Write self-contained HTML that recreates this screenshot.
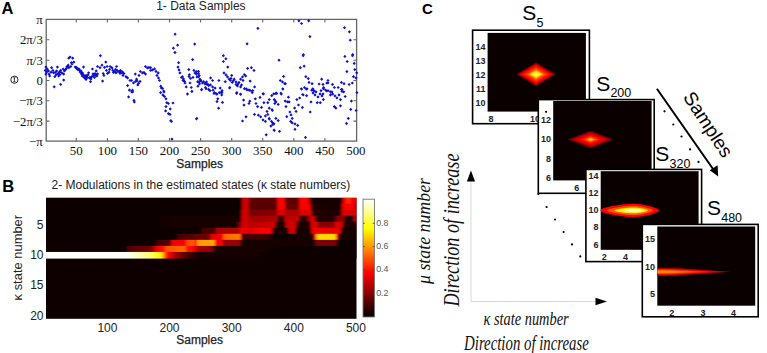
<!DOCTYPE html><html><head><meta charset="utf-8"><style>
html,body{margin:0;padding:0;background:#fff;}
svg{display:block;}
text{font-family:"Liberation Sans",sans-serif;}
.serif{font-family:"Liberation Serif",serif;}
</style></head><body>
<svg width="767" height="353" viewBox="0 0 767 353">
<defs><linearGradient id="r1" gradientUnits="userSpaceOnUse" x1="46.0" x2="356.5" y1="0" y2="0"><stop offset="0.0000" stop-color="#0e0000"/><stop offset="0.6248" stop-color="#0e0000"/><stop offset="0.6329" stop-color="#aa0000"/><stop offset="0.6345" stop-color="#cc0000"/><stop offset="0.6506" stop-color="#cc0000"/><stop offset="0.6570" stop-color="#5f0000"/><stop offset="0.7407" stop-color="#5f0000"/><stop offset="0.7472" stop-color="#ff0300"/><stop offset="0.7665" stop-color="#ff0300"/><stop offset="0.7729" stop-color="#5f0000"/><stop offset="0.8116" stop-color="#5f0000"/><stop offset="0.8180" stop-color="#ff0300"/><stop offset="0.8406" stop-color="#ff0300"/><stop offset="0.8470" stop-color="#cc0000"/><stop offset="0.8535" stop-color="#290000"/><stop offset="0.8615" stop-color="#140000"/><stop offset="0.9469" stop-color="#140000"/><stop offset="0.9533" stop-color="#660000"/><stop offset="0.9597" stop-color="#ff0300"/><stop offset="0.9726" stop-color="#ff1d00"/><stop offset="0.9742" stop-color="#ff3c00"/><stop offset="0.9758" stop-color="#ff6800"/><stop offset="0.9775" stop-color="#ff1f00"/><stop offset="0.9871" stop-color="#fc0000"/><stop offset="0.9936" stop-color="#e70000"/><stop offset="1.0000" stop-color="#e70000"/></linearGradient><linearGradient id="r2" gradientUnits="userSpaceOnUse" x1="46.0" x2="356.5" y1="0" y2="0"><stop offset="0.0000" stop-color="#0e0000"/><stop offset="0.6248" stop-color="#0e0000"/><stop offset="0.6329" stop-color="#aa0000"/><stop offset="0.6345" stop-color="#cc0000"/><stop offset="0.6506" stop-color="#cc0000"/><stop offset="0.6570" stop-color="#580000"/><stop offset="0.7407" stop-color="#580000"/><stop offset="0.7472" stop-color="#fc0000"/><stop offset="0.7681" stop-color="#fc0000"/><stop offset="0.7729" stop-color="#660000"/><stop offset="0.8116" stop-color="#660000"/><stop offset="0.8180" stop-color="#fc0000"/><stop offset="0.8470" stop-color="#ee0000"/><stop offset="0.8519" stop-color="#cc0000"/><stop offset="0.8567" stop-color="#220000"/><stop offset="0.9469" stop-color="#140000"/><stop offset="0.9533" stop-color="#be0000"/><stop offset="0.9597" stop-color="#f50000"/><stop offset="0.9855" stop-color="#ff0300"/><stop offset="0.9919" stop-color="#cc0000"/><stop offset="1.0000" stop-color="#cc0000"/></linearGradient><linearGradient id="r3" gradientUnits="userSpaceOnUse" x1="46.0" x2="356.5" y1="0" y2="0"><stop offset="0.0000" stop-color="#0e0000"/><stop offset="0.6248" stop-color="#0e0000"/><stop offset="0.6296" stop-color="#960000"/><stop offset="0.6345" stop-color="#cc0000"/><stop offset="0.6506" stop-color="#cc0000"/><stop offset="0.6570" stop-color="#740000"/><stop offset="0.7407" stop-color="#880000"/><stop offset="0.7472" stop-color="#da0000"/><stop offset="0.7681" stop-color="#da0000"/><stop offset="0.7729" stop-color="#aa0000"/><stop offset="0.8148" stop-color="#aa0000"/><stop offset="0.8180" stop-color="#da0000"/><stop offset="0.8486" stop-color="#db0000"/><stop offset="0.8535" stop-color="#cc0000"/><stop offset="0.8599" stop-color="#220000"/><stop offset="0.9469" stop-color="#1b0000"/><stop offset="0.9533" stop-color="#cc0000"/><stop offset="0.9710" stop-color="#e00000"/><stop offset="0.9919" stop-color="#d80000"/><stop offset="1.0000" stop-color="#ce0000"/></linearGradient><linearGradient id="r4" gradientUnits="userSpaceOnUse" x1="46.0" x2="356.5" y1="0" y2="0"><stop offset="0.0000" stop-color="#0e0000"/><stop offset="0.6248" stop-color="#140000"/><stop offset="0.6296" stop-color="#aa0000"/><stop offset="0.6345" stop-color="#cc0000"/><stop offset="0.6506" stop-color="#cc0000"/><stop offset="0.6570" stop-color="#a30000"/><stop offset="0.7440" stop-color="#b10000"/><stop offset="0.7504" stop-color="#290000"/><stop offset="0.7633" stop-color="#290000"/><stop offset="0.7697" stop-color="#be0000"/><stop offset="0.8148" stop-color="#be0000"/><stop offset="0.8180" stop-color="#290000"/><stop offset="0.8374" stop-color="#290000"/><stop offset="0.8438" stop-color="#880000"/><stop offset="0.8535" stop-color="#cc0000"/><stop offset="0.8631" stop-color="#cc0000"/><stop offset="0.8728" stop-color="#220000"/><stop offset="0.9275" stop-color="#220000"/><stop offset="0.9372" stop-color="#880000"/><stop offset="0.9533" stop-color="#960000"/><stop offset="0.9630" stop-color="#660000"/><stop offset="0.9662" stop-color="#1b0000"/><stop offset="0.9855" stop-color="#1b0000"/><stop offset="0.9919" stop-color="#aa0000"/><stop offset="1.0000" stop-color="#aa0000"/></linearGradient><linearGradient id="r5" gradientUnits="userSpaceOnUse" x1="46.0" x2="356.5" y1="0" y2="0"><stop offset="0.0000" stop-color="#0e0000"/><stop offset="0.6119" stop-color="#140000"/><stop offset="0.6280" stop-color="#aa0000"/><stop offset="0.6377" stop-color="#da0000"/><stop offset="0.6538" stop-color="#c20000"/><stop offset="0.6602" stop-color="#b80000"/><stop offset="0.7375" stop-color="#cc0000"/><stop offset="0.7424" stop-color="#1b0000"/><stop offset="0.7681" stop-color="#1b0000"/><stop offset="0.7729" stop-color="#cc0000"/><stop offset="0.8052" stop-color="#cc0000"/><stop offset="0.8100" stop-color="#1b0000"/><stop offset="0.8486" stop-color="#1b0000"/><stop offset="0.8535" stop-color="#cc0000"/><stop offset="0.8696" stop-color="#e00000"/><stop offset="0.8792" stop-color="#880000"/><stop offset="0.9243" stop-color="#880000"/><stop offset="0.9340" stop-color="#da0000"/><stop offset="0.9533" stop-color="#da0000"/><stop offset="0.9597" stop-color="#1b0000"/><stop offset="0.9984" stop-color="#1b0000"/><stop offset="1.0000" stop-color="#410000"/></linearGradient><linearGradient id="r6" gradientUnits="userSpaceOnUse" x1="46.0" x2="356.5" y1="0" y2="0"><stop offset="0.0000" stop-color="#0e0000"/><stop offset="0.4960" stop-color="#0e0000"/><stop offset="0.5056" stop-color="#440000"/><stop offset="0.5443" stop-color="#520000"/><stop offset="0.5475" stop-color="#aa0000"/><stop offset="0.6184" stop-color="#b10000"/><stop offset="0.6280" stop-color="#ee0000"/><stop offset="0.6570" stop-color="#e30000"/><stop offset="0.6828" stop-color="#f50000"/><stop offset="0.6940" stop-color="#ff0300"/><stop offset="0.7214" stop-color="#ff0300"/><stop offset="0.7279" stop-color="#cc0000"/><stop offset="0.7343" stop-color="#140000"/><stop offset="0.7762" stop-color="#140000"/><stop offset="0.7826" stop-color="#cc0000"/><stop offset="0.8019" stop-color="#cc0000"/><stop offset="0.8068" stop-color="#140000"/><stop offset="0.8502" stop-color="#140000"/><stop offset="0.8551" stop-color="#cc0000"/><stop offset="0.8631" stop-color="#f50000"/><stop offset="0.9469" stop-color="#ee0000"/><stop offset="0.9533" stop-color="#1b0000"/><stop offset="1.0000" stop-color="#150000"/></linearGradient><linearGradient id="r7" gradientUnits="userSpaceOnUse" x1="46.0" x2="356.5" y1="0" y2="0"><stop offset="0.0000" stop-color="#0e0000"/><stop offset="0.4187" stop-color="#0e0000"/><stop offset="0.4251" stop-color="#440000"/><stop offset="0.4750" stop-color="#570000"/><stop offset="0.4831" stop-color="#660000"/><stop offset="0.5250" stop-color="#6d0000"/><stop offset="0.5314" stop-color="#e00000"/><stop offset="0.5668" stop-color="#ee0000"/><stop offset="0.5684" stop-color="#ff0c00"/><stop offset="0.5733" stop-color="#ff6300"/><stop offset="0.6216" stop-color="#ff7e00"/><stop offset="0.6264" stop-color="#ff5500"/><stop offset="0.6280" stop-color="#f90000"/><stop offset="0.6312" stop-color="#440000"/><stop offset="0.7085" stop-color="#3d0000"/><stop offset="0.7214" stop-color="#360000"/><stop offset="0.7279" stop-color="#0e0000"/><stop offset="0.8599" stop-color="#140000"/><stop offset="0.8647" stop-color="#eb0000"/><stop offset="0.8663" stop-color="#ff3300"/><stop offset="0.8760" stop-color="#ffdd00"/><stop offset="0.9308" stop-color="#ffdd00"/><stop offset="0.9372" stop-color="#ff3300"/><stop offset="0.9388" stop-color="#ee0000"/><stop offset="0.9436" stop-color="#220000"/><stop offset="1.0000" stop-color="#0e0000"/></linearGradient><linearGradient id="r8" gradientUnits="userSpaceOnUse" x1="46.0" x2="356.5" y1="0" y2="0"><stop offset="0.0000" stop-color="#0e0000"/><stop offset="0.3510" stop-color="#0e0000"/><stop offset="0.3607" stop-color="#440000"/><stop offset="0.3994" stop-color="#5f0000"/><stop offset="0.4058" stop-color="#ee0000"/><stop offset="0.4477" stop-color="#fc0000"/><stop offset="0.4541" stop-color="#ff4100"/><stop offset="0.4767" stop-color="#ff6300"/><stop offset="0.4799" stop-color="#ff1100"/><stop offset="0.4847" stop-color="#ff0300"/><stop offset="0.4879" stop-color="#ff9900"/><stop offset="0.5411" stop-color="#ffa700"/><stop offset="0.5475" stop-color="#ff0300"/><stop offset="0.5668" stop-color="#f50000"/><stop offset="0.5733" stop-color="#960000"/><stop offset="0.6248" stop-color="#960000"/><stop offset="0.6312" stop-color="#140000"/><stop offset="0.8631" stop-color="#140000"/><stop offset="0.8696" stop-color="#7a0000"/><stop offset="0.9340" stop-color="#7a0000"/><stop offset="0.9404" stop-color="#0e0000"/><stop offset="1.0000" stop-color="#0e0000"/></linearGradient><linearGradient id="r9" gradientUnits="userSpaceOnUse" x1="46.0" x2="356.5" y1="0" y2="0"><stop offset="0.0000" stop-color="#0e0000"/><stop offset="0.2576" stop-color="#0e0000"/><stop offset="0.2641" stop-color="#520000"/><stop offset="0.3349" stop-color="#6d0000"/><stop offset="0.3607" stop-color="#fc0000"/><stop offset="0.3800" stop-color="#ff1100"/><stop offset="0.3865" stop-color="#ff5500"/><stop offset="0.4477" stop-color="#ff6900"/><stop offset="0.4541" stop-color="#ff1100"/><stop offset="0.4783" stop-color="#f60000"/><stop offset="0.4799" stop-color="#f50000"/><stop offset="0.4847" stop-color="#aa0000"/><stop offset="0.5282" stop-color="#960000"/><stop offset="0.5411" stop-color="#520000"/><stop offset="0.5475" stop-color="#140000"/><stop offset="1.0000" stop-color="#0e0000"/></linearGradient><linearGradient id="r10" gradientUnits="userSpaceOnUse" x1="46.0" x2="356.5" y1="0" y2="0"><stop offset="0.0000" stop-color="#ffffff"/><stop offset="0.2593" stop-color="#fffffc"/><stop offset="0.2915" stop-color="#ffffc1"/><stop offset="0.3285" stop-color="#ffff83"/><stop offset="0.3430" stop-color="#ffff5d"/><stop offset="0.3575" stop-color="#ffff14"/><stop offset="0.3655" stop-color="#fffc00"/><stop offset="0.3768" stop-color="#ffc200"/><stop offset="0.3833" stop-color="#ff5500"/><stop offset="0.3897" stop-color="#ff1100"/><stop offset="0.3961" stop-color="#f50000"/><stop offset="0.4187" stop-color="#a30000"/><stop offset="0.4396" stop-color="#690000"/><stop offset="0.4734" stop-color="#2a0000"/><stop offset="0.4944" stop-color="#140000"/><stop offset="1.0000" stop-color="#0e0000"/></linearGradient><linearGradient id="cbar" x1="0" x2="0" y1="0" y2="1"><stop offset="0.0000" stop-color="#ffffff"/><stop offset="0.0312" stop-color="#ffffdf"/><stop offset="0.0625" stop-color="#ffffbf"/><stop offset="0.0938" stop-color="#ffff9f"/><stop offset="0.1250" stop-color="#ffff80"/><stop offset="0.1562" stop-color="#ffff60"/><stop offset="0.1875" stop-color="#ffff40"/><stop offset="0.2188" stop-color="#ffff20"/><stop offset="0.2500" stop-color="#ffff00"/><stop offset="0.2812" stop-color="#ffea00"/><stop offset="0.3125" stop-color="#ffd400"/><stop offset="0.3438" stop-color="#ffbf00"/><stop offset="0.3750" stop-color="#ffaa00"/><stop offset="0.4062" stop-color="#ff9500"/><stop offset="0.4375" stop-color="#ff8000"/><stop offset="0.4688" stop-color="#ff6a00"/><stop offset="0.5000" stop-color="#ff5500"/><stop offset="0.5312" stop-color="#ff4000"/><stop offset="0.5625" stop-color="#ff2a00"/><stop offset="0.5938" stop-color="#ff1500"/><stop offset="0.6250" stop-color="#ff0000"/><stop offset="0.6562" stop-color="#ea0000"/><stop offset="0.6875" stop-color="#d40000"/><stop offset="0.7188" stop-color="#bf0000"/><stop offset="0.7500" stop-color="#aa0000"/><stop offset="0.7812" stop-color="#950000"/><stop offset="0.8125" stop-color="#800000"/><stop offset="0.8438" stop-color="#6a0000"/><stop offset="0.8750" stop-color="#550000"/><stop offset="0.9062" stop-color="#400000"/><stop offset="0.9375" stop-color="#2a0000"/><stop offset="0.9688" stop-color="#150000"/><stop offset="1.0000" stop-color="#0b0000"/></linearGradient><filter id="bl" x="-5%" y="-5%" width="110%" height="110%"><feGaussianBlur stdDeviation="1.1 0.75"/></filter><filter id="bl2" x="-20%" y="-20%" width="140%" height="140%"><feGaussianBlur stdDeviation="0.6"/></filter><clipPath id="hclip"><rect x="46.0" y="197.8" width="310.5" height="121.0"/></clipPath></defs>
<rect width="767" height="353" fill="#fff"/>
<text x="1.4" y="13.8" font-size="16.5" font-weight="bold" fill="#000">A</text>
<text x="156.2" y="10.4" font-size="12" fill="#222">1- Data Samples</text>
<rect x="46.2" y="19.4" width="310.4" height="121.7" fill="none" stroke="#666" stroke-width="1.3"/>
<text class="serif" x="76.3" y="154.8" font-size="12.9" text-anchor="middle" fill="#111">50</text>
<text class="serif" x="107.4" y="154.8" font-size="12.9" text-anchor="middle" fill="#111">100</text>
<text class="serif" x="138.4" y="154.8" font-size="12.9" text-anchor="middle" fill="#111">150</text>
<text class="serif" x="169.5" y="154.8" font-size="12.9" text-anchor="middle" fill="#111">200</text>
<text class="serif" x="200.6" y="154.8" font-size="12.9" text-anchor="middle" fill="#111">250</text>
<text class="serif" x="231.7" y="154.8" font-size="12.9" text-anchor="middle" fill="#111">300</text>
<text class="serif" x="262.7" y="154.8" font-size="12.9" text-anchor="middle" fill="#111">350</text>
<text class="serif" x="293.8" y="154.8" font-size="12.9" text-anchor="middle" fill="#111">400</text>
<text class="serif" x="324.9" y="154.8" font-size="12.9" text-anchor="middle" fill="#111">450</text>
<text class="serif" x="355.9" y="154.8" font-size="12.9" text-anchor="middle" fill="#111">500</text>
<text class="serif" x="42.8" y="23.8" font-size="12.8" text-anchor="end" fill="#111">π</text>
<text class="serif" x="42.8" y="44.2" font-size="12.8" text-anchor="end" fill="#111">2π/3</text>
<text class="serif" x="42.8" y="64.6" font-size="12.8" text-anchor="end" fill="#111">π/3</text>
<text class="serif" x="42.8" y="84.9" font-size="12.8" text-anchor="end" fill="#111">0</text>
<text class="serif" x="42.8" y="105.2" font-size="12.8" text-anchor="end" fill="#111">−π/3</text>
<text class="serif" x="42.8" y="125.5" font-size="12.8" text-anchor="end" fill="#111">−2π/3</text>
<text class="serif" x="42.8" y="145.6" font-size="12.8" text-anchor="end" fill="#111">−π</text>
<path d="M76.3 141.1v-3.2M76.3 19.4v3.2M107.4 141.1v-3.2M107.4 19.4v3.2M138.4 141.1v-3.2M138.4 19.4v3.2M169.5 141.1v-3.2M169.5 19.4v3.2M200.6 141.1v-3.2M200.6 19.4v3.2M231.7 141.1v-3.2M231.7 19.4v3.2M262.7 141.1v-3.2M262.7 19.4v3.2M293.8 141.1v-3.2M293.8 19.4v3.2M324.9 141.1v-3.2M324.9 19.4v3.2M46.2 39.8h3.2M356.6 39.8h-3.2M46.2 60.2h3.2M356.6 60.2h-3.2M46.2 80.5h3.2M356.6 80.5h-3.2M46.2 100.8h3.2M356.6 100.8h-3.2M46.2 121.1h3.2M356.6 121.1h-3.2" stroke="#666" stroke-width="1.1" fill="none"/>
<text x="199.7" y="168.2" font-size="12" text-anchor="middle" fill="#222" stroke="#222" stroke-width="0.25">Samples</text>
<circle cx="14.4" cy="79.7" r="3.6" fill="none" stroke="#222" stroke-width="1.0"/><path d="M14.4 77.8V81.6M13.4 77.8H15.4M13.4 81.6H15.4" stroke="#222" stroke-width="0.9" fill="none"/>
<path d="M45.9 65.5l1.6 1.6l-1.6 1.6l-1.6 -1.6zM47.2 67.4l1.6 1.6l-1.6 1.6l-1.6 -1.6zM45.3 68.8l1.6 1.6l-1.6 1.6l-1.6 -1.6zM46.5 70.6l1.6 1.6l-1.6 1.6l-1.6 -1.6zM48.5 69.3l1.6 1.6l-1.6 1.6l-1.6 -1.6zM45.9 72.5l1.6 1.6l-1.6 1.6l-1.6 -1.6zM49.1 72.5l1.6 1.6l-1.6 1.6l-1.6 -1.6zM49.7 74.4l1.6 1.6l-1.6 1.6l-1.6 -1.6zM51.6 66.1l1.6 1.6l-1.6 1.6l-1.6 -1.6zM52.9 68.8l1.6 1.6l-1.6 1.6l-1.6 -1.6zM51.0 70.6l1.6 1.6l-1.6 1.6l-1.6 -1.6zM53.6 71.2l1.6 1.6l-1.6 1.6l-1.6 -1.6zM54.2 85.2l1.6 1.6l-1.6 1.6l-1.6 -1.6zM55.5 70.6l1.6 1.6l-1.6 1.6l-1.6 -1.6zM56.7 69.3l1.6 1.6l-1.6 1.6l-1.6 -1.6zM57.4 65.5l1.6 1.6l-1.6 1.6l-1.6 -1.6zM56.1 73.1l1.6 1.6l-1.6 1.6l-1.6 -1.6zM58.0 71.9l1.6 1.6l-1.6 1.6l-1.6 -1.6zM54.8 75.1l1.6 1.6l-1.6 1.6l-1.6 -1.6zM59.3 70.6l1.6 1.6l-1.6 1.6l-1.6 -1.6zM58.6 74.4l1.6 1.6l-1.6 1.6l-1.6 -1.6zM60.6 68.8l1.6 1.6l-1.6 1.6l-1.6 -1.6zM61.8 71.2l1.6 1.6l-1.6 1.6l-1.6 -1.6zM63.1 67.4l1.6 1.6l-1.6 1.6l-1.6 -1.6zM64.4 69.3l1.6 1.6l-1.6 1.6l-1.6 -1.6zM59.9 73.1l1.6 1.6l-1.6 1.6l-1.6 -1.6zM63.7 72.5l1.6 1.6l-1.6 1.6l-1.6 -1.6zM60.6 82.8l1.6 1.6l-1.6 1.6l-1.6 -1.6zM63.7 78.5l1.6 1.6l-1.6 1.6l-1.6 -1.6zM65.7 68.0l1.6 1.6l-1.6 1.6l-1.6 -1.6zM66.9 64.9l1.6 1.6l-1.6 1.6l-1.6 -1.6zM68.2 63.6l1.6 1.6l-1.6 1.6l-1.6 -1.6zM66.3 66.8l1.6 1.6l-1.6 1.6l-1.6 -1.6zM68.8 66.1l1.6 1.6l-1.6 1.6l-1.6 -1.6zM68.8 56.6l1.6 1.6l-1.6 1.6l-1.6 -1.6zM70.1 55.4l1.6 1.6l-1.6 1.6l-1.6 -1.6zM72.7 56.6l1.6 1.6l-1.6 1.6l-1.6 -1.6zM71.4 61.1l1.6 1.6l-1.6 1.6l-1.6 -1.6zM73.9 60.5l1.6 1.6l-1.6 1.6l-1.6 -1.6zM72.0 62.4l1.6 1.6l-1.6 1.6l-1.6 -1.6zM70.8 64.9l1.6 1.6l-1.6 1.6l-1.6 -1.6zM75.2 65.5l1.6 1.6l-1.6 1.6l-1.6 -1.6zM76.5 66.8l1.6 1.6l-1.6 1.6l-1.6 -1.6zM77.8 68.0l1.6 1.6l-1.6 1.6l-1.6 -1.6zM79.0 67.4l1.6 1.6l-1.6 1.6l-1.6 -1.6zM80.3 70.6l1.6 1.6l-1.6 1.6l-1.6 -1.6zM81.6 72.5l1.6 1.6l-1.6 1.6l-1.6 -1.6zM82.2 74.4l1.6 1.6l-1.6 1.6l-1.6 -1.6zM83.5 65.5l1.6 1.6l-1.6 1.6l-1.6 -1.6zM84.1 75.8l1.6 1.6l-1.6 1.6l-1.6 -1.6zM85.4 77.0l1.6 1.6l-1.6 1.6l-1.6 -1.6zM87.3 75.8l1.6 1.6l-1.6 1.6l-1.6 -1.6zM86.0 73.8l1.6 1.6l-1.6 1.6l-1.6 -1.6zM88.6 71.2l1.6 1.6l-1.6 1.6l-1.6 -1.6zM90.5 80.1l1.6 1.6l-1.6 1.6l-1.6 -1.6zM89.9 75.8l1.6 1.6l-1.6 1.6l-1.6 -1.6zM91.8 75.1l1.6 1.6l-1.6 1.6l-1.6 -1.6zM92.4 67.4l1.6 1.6l-1.6 1.6l-1.6 -1.6zM93.7 73.8l1.6 1.6l-1.6 1.6l-1.6 -1.6zM95.0 71.9l1.6 1.6l-1.6 1.6l-1.6 -1.6zM96.2 69.3l1.6 1.6l-1.6 1.6l-1.6 -1.6zM96.9 74.4l1.6 1.6l-1.6 1.6l-1.6 -1.6zM97.5 64.9l1.6 1.6l-1.6 1.6l-1.6 -1.6zM100.4 54.1l1.6 1.6l-1.6 1.6l-1.6 -1.6zM102.0 63.6l1.6 1.6l-1.6 1.6l-1.6 -1.6zM100.0 66.1l1.6 1.6l-1.6 1.6l-1.6 -1.6zM103.2 71.9l1.6 1.6l-1.6 1.6l-1.6 -1.6zM102.6 79.5l1.6 1.6l-1.6 1.6l-1.6 -1.6zM103.9 73.8l1.6 1.6l-1.6 1.6l-1.6 -1.6zM105.8 60.5l1.6 1.6l-1.6 1.6l-1.6 -1.6zM107.1 64.9l1.6 1.6l-1.6 1.6l-1.6 -1.6zM106.4 68.8l1.6 1.6l-1.6 1.6l-1.6 -1.6zM109.0 70.6l1.6 1.6l-1.6 1.6l-1.6 -1.6zM110.2 64.9l1.6 1.6l-1.6 1.6l-1.6 -1.6zM112.8 68.8l1.6 1.6l-1.6 1.6l-1.6 -1.6zM114.7 70.0l1.6 1.6l-1.6 1.6l-1.6 -1.6zM116.6 64.9l1.6 1.6l-1.6 1.6l-1.6 -1.6zM117.2 68.8l1.6 1.6l-1.6 1.6l-1.6 -1.6zM119.2 70.0l1.6 1.6l-1.6 1.6l-1.6 -1.6zM120.4 69.3l1.6 1.6l-1.6 1.6l-1.6 -1.6zM121.7 71.2l1.6 1.6l-1.6 1.6l-1.6 -1.6zM123.0 73.8l1.6 1.6l-1.6 1.6l-1.6 -1.6zM116.0 71.2l1.6 1.6l-1.6 1.6l-1.6 -1.6zM120.5 68.8l1.6 1.6l-1.6 1.6l-1.6 -1.6zM122.5 70.6l1.6 1.6l-1.6 1.6l-1.6 -1.6zM124.0 71.9l1.6 1.6l-1.6 1.6l-1.6 -1.6zM126.0 75.1l1.6 1.6l-1.6 1.6l-1.6 -1.6zM127.6 76.3l1.6 1.6l-1.6 1.6l-1.6 -1.6zM130.0 78.9l1.6 1.6l-1.6 1.6l-1.6 -1.6zM127.6 84.0l1.6 1.6l-1.6 1.6l-1.6 -1.6zM129.5 88.3l1.6 1.6l-1.6 1.6l-1.6 -1.6zM132.7 90.3l1.6 1.6l-1.6 1.6l-1.6 -1.6zM131.5 78.9l1.6 1.6l-1.6 1.6l-1.6 -1.6zM133.5 81.3l1.6 1.6l-1.6 1.6l-1.6 -1.6zM135.5 79.8l1.6 1.6l-1.6 1.6l-1.6 -1.6zM137.8 83.3l1.6 1.6l-1.6 1.6l-1.6 -1.6zM135.3 72.5l1.6 1.6l-1.6 1.6l-1.6 -1.6zM136.6 77.6l1.6 1.6l-1.6 1.6l-1.6 -1.6zM139.0 73.8l1.6 1.6l-1.6 1.6l-1.6 -1.6zM140.4 69.9l1.6 1.6l-1.6 1.6l-1.6 -1.6zM142.5 71.3l1.6 1.6l-1.6 1.6l-1.6 -1.6zM144.0 70.8l1.6 1.6l-1.6 1.6l-1.6 -1.6zM145.5 72.5l1.6 1.6l-1.6 1.6l-1.6 -1.6zM145.5 64.9l1.6 1.6l-1.6 1.6l-1.6 -1.6zM147.5 66.3l1.6 1.6l-1.6 1.6l-1.6 -1.6zM149.0 65.8l1.6 1.6l-1.6 1.6l-1.6 -1.6zM150.6 68.8l1.6 1.6l-1.6 1.6l-1.6 -1.6zM150.6 66.1l1.6 1.6l-1.6 1.6l-1.6 -1.6zM152.5 68.3l1.6 1.6l-1.6 1.6l-1.6 -1.6zM154.5 67.3l1.6 1.6l-1.6 1.6l-1.6 -1.6zM156.0 69.8l1.6 1.6l-1.6 1.6l-1.6 -1.6zM158.2 71.3l1.6 1.6l-1.6 1.6l-1.6 -1.6zM157.0 73.8l1.6 1.6l-1.6 1.6l-1.6 -1.6zM158.5 76.3l1.6 1.6l-1.6 1.6l-1.6 -1.6zM159.5 78.9l1.6 1.6l-1.6 1.6l-1.6 -1.6zM160.8 84.6l1.6 1.6l-1.6 1.6l-1.6 -1.6zM162.5 86.8l1.6 1.6l-1.6 1.6l-1.6 -1.6zM164.0 90.3l1.6 1.6l-1.6 1.6l-1.6 -1.6zM174.8 50.9l1.6 1.6l-1.6 1.6l-1.6 -1.6zM178.6 61.1l1.6 1.6l-1.6 1.6l-1.6 -1.6zM178.0 65.5l1.6 1.6l-1.6 1.6l-1.6 -1.6zM179.0 68.3l1.6 1.6l-1.6 1.6l-1.6 -1.6zM179.9 71.3l1.6 1.6l-1.6 1.6l-1.6 -1.6zM182.4 75.1l1.6 1.6l-1.6 1.6l-1.6 -1.6zM183.5 77.3l1.6 1.6l-1.6 1.6l-1.6 -1.6zM185.0 81.4l1.6 1.6l-1.6 1.6l-1.6 -1.6zM186.2 85.3l1.6 1.6l-1.6 1.6l-1.6 -1.6zM187.5 92.3l1.6 1.6l-1.6 1.6l-1.6 -1.6zM188.8 68.0l1.6 1.6l-1.6 1.6l-1.6 -1.6zM192.6 58.0l1.6 1.6l-1.6 1.6l-1.6 -1.6zM189.4 73.1l1.6 1.6l-1.6 1.6l-1.6 -1.6zM193.9 68.8l1.6 1.6l-1.6 1.6l-1.6 -1.6zM196.4 72.5l1.6 1.6l-1.6 1.6l-1.6 -1.6zM197.7 80.1l1.6 1.6l-1.6 1.6l-1.6 -1.6zM190.0 81.4l1.6 1.6l-1.6 1.6l-1.6 -1.6zM191.3 85.9l1.6 1.6l-1.6 1.6l-1.6 -1.6zM192.0 89.8l1.6 1.6l-1.6 1.6l-1.6 -1.6zM129.4 88.6l1.6 1.6l-1.6 1.6l-1.6 -1.6zM132.5 88.6l1.6 1.6l-1.6 1.6l-1.6 -1.6zM131.7 90.2l1.6 1.6l-1.6 1.6l-1.6 -1.6zM128.6 95.3l1.6 1.6l-1.6 1.6l-1.6 -1.6zM134.0 98.8l1.6 1.6l-1.6 1.6l-1.6 -1.6zM134.3 100.3l1.6 1.6l-1.6 1.6l-1.6 -1.6zM161.3 86.3l1.6 1.6l-1.6 1.6l-1.6 -1.6zM163.7 89.4l1.6 1.6l-1.6 1.6l-1.6 -1.6zM160.6 91.0l1.6 1.6l-1.6 1.6l-1.6 -1.6zM162.9 93.3l1.6 1.6l-1.6 1.6l-1.6 -1.6zM164.5 94.9l1.6 1.6l-1.6 1.6l-1.6 -1.6zM166.0 97.2l1.6 1.6l-1.6 1.6l-1.6 -1.6zM166.8 101.1l1.6 1.6l-1.6 1.6l-1.6 -1.6zM168.4 101.9l1.6 1.6l-1.6 1.6l-1.6 -1.6zM173.0 101.4l1.6 1.6l-1.6 1.6l-1.6 -1.6zM166.0 105.0l1.6 1.6l-1.6 1.6l-1.6 -1.6zM170.2 107.3l1.6 1.6l-1.6 1.6l-1.6 -1.6zM165.6 109.3l1.6 1.6l-1.6 1.6l-1.6 -1.6zM168.4 112.0l1.6 1.6l-1.6 1.6l-1.6 -1.6zM170.0 112.8l1.6 1.6l-1.6 1.6l-1.6 -1.6zM170.7 119.1l1.6 1.6l-1.6 1.6l-1.6 -1.6zM171.5 119.8l1.6 1.6l-1.6 1.6l-1.6 -1.6zM172.0 137.5l1.6 1.6l-1.6 1.6l-1.6 -1.6zM187.4 92.5l1.6 1.6l-1.6 1.6l-1.6 -1.6zM191.8 89.8l1.6 1.6l-1.6 1.6l-1.6 -1.6zM196.4 117.2l1.6 1.6l-1.6 1.6l-1.6 -1.6zM175.1 32.6l1.6 1.6l-1.6 1.6l-1.6 -1.6zM177.6 43.6l1.6 1.6l-1.6 1.6l-1.6 -1.6zM173.4 46.6l1.6 1.6l-1.6 1.6l-1.6 -1.6zM175.1 50.9l1.6 1.6l-1.6 1.6l-1.6 -1.6zM194.7 42.5l1.6 1.6l-1.6 1.6l-1.6 -1.6zM257.9 26.7l1.6 1.6l-1.6 1.6l-1.6 -1.6zM247.1 42.2l1.6 1.6l-1.6 1.6l-1.6 -1.6zM223.4 54.1l1.6 1.6l-1.6 1.6l-1.6 -1.6zM225.9 57.2l1.6 1.6l-1.6 1.6l-1.6 -1.6zM223.4 59.9l1.6 1.6l-1.6 1.6l-1.6 -1.6zM227.8 65.5l1.6 1.6l-1.6 1.6l-1.6 -1.6zM247.6 66.8l1.6 1.6l-1.6 1.6l-1.6 -1.6zM251.4 66.1l1.6 1.6l-1.6 1.6l-1.6 -1.6zM254.0 68.8l1.6 1.6l-1.6 1.6l-1.6 -1.6zM196.5 70.0l1.6 1.6l-1.6 1.6l-1.6 -1.6zM198.5 71.8l1.6 1.6l-1.6 1.6l-1.6 -1.6zM199.2 73.8l1.6 1.6l-1.6 1.6l-1.6 -1.6zM198.5 75.1l1.6 1.6l-1.6 1.6l-1.6 -1.6zM199.8 77.6l1.6 1.6l-1.6 1.6l-1.6 -1.6zM201.0 79.3l1.6 1.6l-1.6 1.6l-1.6 -1.6zM202.4 81.4l1.6 1.6l-1.6 1.6l-1.6 -1.6zM203.6 80.1l1.6 1.6l-1.6 1.6l-1.6 -1.6zM205.5 81.8l1.6 1.6l-1.6 1.6l-1.6 -1.6zM207.0 82.8l1.6 1.6l-1.6 1.6l-1.6 -1.6zM208.7 84.0l1.6 1.6l-1.6 1.6l-1.6 -1.6zM197.9 84.6l1.6 1.6l-1.6 1.6l-1.6 -1.6zM201.7 87.8l1.6 1.6l-1.6 1.6l-1.6 -1.6zM205.5 85.9l1.6 1.6l-1.6 1.6l-1.6 -1.6zM210.6 76.3l1.6 1.6l-1.6 1.6l-1.6 -1.6zM212.6 78.9l1.6 1.6l-1.6 1.6l-1.6 -1.6zM218.9 78.9l1.6 1.6l-1.6 1.6l-1.6 -1.6zM212.6 85.3l1.6 1.6l-1.6 1.6l-1.6 -1.6zM215.1 86.5l1.6 1.6l-1.6 1.6l-1.6 -1.6zM208.7 87.8l1.6 1.6l-1.6 1.6l-1.6 -1.6zM210.0 89.1l1.6 1.6l-1.6 1.6l-1.6 -1.6zM214.5 91.0l1.6 1.6l-1.6 1.6l-1.6 -1.6zM216.4 92.3l1.6 1.6l-1.6 1.6l-1.6 -1.6zM224.0 71.3l1.6 1.6l-1.6 1.6l-1.6 -1.6zM226.0 73.3l1.6 1.6l-1.6 1.6l-1.6 -1.6zM227.5 75.3l1.6 1.6l-1.6 1.6l-1.6 -1.6zM229.1 77.6l1.6 1.6l-1.6 1.6l-1.6 -1.6zM231.7 73.8l1.6 1.6l-1.6 1.6l-1.6 -1.6zM225.3 80.1l1.6 1.6l-1.6 1.6l-1.6 -1.6zM230.4 78.9l1.6 1.6l-1.6 1.6l-1.6 -1.6zM229.8 85.9l1.6 1.6l-1.6 1.6l-1.6 -1.6zM232.3 80.8l1.6 1.6l-1.6 1.6l-1.6 -1.6zM234.2 77.6l1.6 1.6l-1.6 1.6l-1.6 -1.6zM236.0 80.3l1.6 1.6l-1.6 1.6l-1.6 -1.6zM238.0 82.3l1.6 1.6l-1.6 1.6l-1.6 -1.6zM240.6 85.3l1.6 1.6l-1.6 1.6l-1.6 -1.6zM240.6 77.6l1.6 1.6l-1.6 1.6l-1.6 -1.6zM242.5 75.3l1.6 1.6l-1.6 1.6l-1.6 -1.6zM244.4 73.1l1.6 1.6l-1.6 1.6l-1.6 -1.6zM245.7 74.3l1.6 1.6l-1.6 1.6l-1.6 -1.6zM220.2 86.5l1.6 1.6l-1.6 1.6l-1.6 -1.6zM222.1 89.1l1.6 1.6l-1.6 1.6l-1.6 -1.6zM221.0 91.0l1.6 1.6l-1.6 1.6l-1.6 -1.6zM222.0 91.0l1.6 1.6l-1.6 1.6l-1.6 -1.6zM250.1 79.5l1.6 1.6l-1.6 1.6l-1.6 -1.6zM254.6 85.3l1.6 1.6l-1.6 1.6l-1.6 -1.6zM246.3 87.2l1.6 1.6l-1.6 1.6l-1.6 -1.6zM249.0 88.3l1.6 1.6l-1.6 1.6l-1.6 -1.6zM252.7 89.1l1.6 1.6l-1.6 1.6l-1.6 -1.6zM236.8 91.0l1.6 1.6l-1.6 1.6l-1.6 -1.6zM240.6 92.9l1.6 1.6l-1.6 1.6l-1.6 -1.6zM263.5 92.3l1.6 1.6l-1.6 1.6l-1.6 -1.6zM273.7 92.3l1.6 1.6l-1.6 1.6l-1.6 -1.6zM201.5 88.2l1.6 1.6l-1.6 1.6l-1.6 -1.6zM206.0 87.1l1.6 1.6l-1.6 1.6l-1.6 -1.6zM209.0 88.3l1.6 1.6l-1.6 1.6l-1.6 -1.6zM213.0 88.6l1.6 1.6l-1.6 1.6l-1.6 -1.6zM214.0 91.8l1.6 1.6l-1.6 1.6l-1.6 -1.6zM217.0 92.5l1.6 1.6l-1.6 1.6l-1.6 -1.6zM219.4 91.0l1.6 1.6l-1.6 1.6l-1.6 -1.6zM221.7 93.3l1.6 1.6l-1.6 1.6l-1.6 -1.6zM217.8 97.2l1.6 1.6l-1.6 1.6l-1.6 -1.6zM217.0 100.0l1.6 1.6l-1.6 1.6l-1.6 -1.6zM222.5 100.8l1.6 1.6l-1.6 1.6l-1.6 -1.6zM218.6 106.6l1.6 1.6l-1.6 1.6l-1.6 -1.6zM229.5 86.3l1.6 1.6l-1.6 1.6l-1.6 -1.6zM196.8 116.8l1.6 1.6l-1.6 1.6l-1.6 -1.6zM236.6 91.8l1.6 1.6l-1.6 1.6l-1.6 -1.6zM240.5 92.5l1.6 1.6l-1.6 1.6l-1.6 -1.6zM243.6 98.5l1.6 1.6l-1.6 1.6l-1.6 -1.6zM244.0 103.5l1.6 1.6l-1.6 1.6l-1.6 -1.6zM246.0 115.2l1.6 1.6l-1.6 1.6l-1.6 -1.6zM242.5 119.4l1.6 1.6l-1.6 1.6l-1.6 -1.6zM244.4 87.1l1.6 1.6l-1.6 1.6l-1.6 -1.6zM247.0 88.3l1.6 1.6l-1.6 1.6l-1.6 -1.6zM250.0 88.8l1.6 1.6l-1.6 1.6l-1.6 -1.6zM252.2 89.4l1.6 1.6l-1.6 1.6l-1.6 -1.6zM249.8 99.6l1.6 1.6l-1.6 1.6l-1.6 -1.6zM249.0 101.9l1.6 1.6l-1.6 1.6l-1.6 -1.6zM252.2 91.0l1.6 1.6l-1.6 1.6l-1.6 -1.6zM255.3 97.2l1.6 1.6l-1.6 1.6l-1.6 -1.6zM256.0 101.9l1.6 1.6l-1.6 1.6l-1.6 -1.6zM257.6 105.0l1.6 1.6l-1.6 1.6l-1.6 -1.6zM260.0 95.8l1.6 1.6l-1.6 1.6l-1.6 -1.6zM263.0 92.2l1.6 1.6l-1.6 1.6l-1.6 -1.6zM261.5 105.8l1.6 1.6l-1.6 1.6l-1.6 -1.6zM254.5 112.8l1.6 1.6l-1.6 1.6l-1.6 -1.6zM258.4 113.6l1.6 1.6l-1.6 1.6l-1.6 -1.6zM260.7 115.2l1.6 1.6l-1.6 1.6l-1.6 -1.6zM263.9 101.1l1.6 1.6l-1.6 1.6l-1.6 -1.6zM263.0 118.3l1.6 1.6l-1.6 1.6l-1.6 -1.6zM265.4 119.8l1.6 1.6l-1.6 1.6l-1.6 -1.6zM266.2 133.2l1.6 1.6l-1.6 1.6l-1.6 -1.6zM267.8 101.1l1.6 1.6l-1.6 1.6l-1.6 -1.6zM269.3 98.0l1.6 1.6l-1.6 1.6l-1.6 -1.6zM271.7 94.1l1.6 1.6l-1.6 1.6l-1.6 -1.6zM269.3 106.6l1.6 1.6l-1.6 1.6l-1.6 -1.6zM272.4 108.9l1.6 1.6l-1.6 1.6l-1.6 -1.6zM267.0 109.8l1.6 1.6l-1.6 1.6l-1.6 -1.6zM267.8 112.8l1.6 1.6l-1.6 1.6l-1.6 -1.6zM265.4 114.3l1.6 1.6l-1.6 1.6l-1.6 -1.6zM269.3 116.8l1.6 1.6l-1.6 1.6l-1.6 -1.6zM269.3 117.5l1.6 1.6l-1.6 1.6l-1.6 -1.6zM271.5 119.8l1.6 1.6l-1.6 1.6l-1.6 -1.6zM274.0 122.2l1.6 1.6l-1.6 1.6l-1.6 -1.6zM270.9 124.5l1.6 1.6l-1.6 1.6l-1.6 -1.6zM274.0 128.4l1.6 1.6l-1.6 1.6l-1.6 -1.6zM274.8 98.8l1.6 1.6l-1.6 1.6l-1.6 -1.6zM274.8 101.9l1.6 1.6l-1.6 1.6l-1.6 -1.6zM275.6 91.8l1.6 1.6l-1.6 1.6l-1.6 -1.6zM298.9 19.2l1.6 1.6l-1.6 1.6l-1.6 -1.6zM301.5 21.9l1.6 1.6l-1.6 1.6l-1.6 -1.6zM308.7 19.2l1.6 1.6l-1.6 1.6l-1.6 -1.6zM309.9 35.0l1.6 1.6l-1.6 1.6l-1.6 -1.6zM344.5 26.1l1.6 1.6l-1.6 1.6l-1.6 -1.6zM349.4 30.2l1.6 1.6l-1.6 1.6l-1.6 -1.6zM350.3 38.6l1.6 1.6l-1.6 1.6l-1.6 -1.6zM303.4 53.0l1.6 1.6l-1.6 1.6l-1.6 -1.6zM352.7 53.0l1.6 1.6l-1.6 1.6l-1.6 -1.6zM279.0 58.6l1.6 1.6l-1.6 1.6l-1.6 -1.6zM303.2 54.1l1.6 1.6l-1.6 1.6l-1.6 -1.6zM300.3 66.1l1.6 1.6l-1.6 1.6l-1.6 -1.6zM304.1 64.6l1.6 1.6l-1.6 1.6l-1.6 -1.6zM283.5 74.8l1.6 1.6l-1.6 1.6l-1.6 -1.6zM280.3 78.9l1.6 1.6l-1.6 1.6l-1.6 -1.6zM282.5 80.3l1.6 1.6l-1.6 1.6l-1.6 -1.6zM284.7 82.1l1.6 1.6l-1.6 1.6l-1.6 -1.6zM285.4 82.1l1.6 1.6l-1.6 1.6l-1.6 -1.6zM282.8 87.2l1.6 1.6l-1.6 1.6l-1.6 -1.6zM276.5 91.6l1.6 1.6l-1.6 1.6l-1.6 -1.6zM280.9 91.6l1.6 1.6l-1.6 1.6l-1.6 -1.6zM305.8 75.1l1.6 1.6l-1.6 1.6l-1.6 -1.6zM308.3 77.0l1.6 1.6l-1.6 1.6l-1.6 -1.6zM309.0 80.8l1.6 1.6l-1.6 1.6l-1.6 -1.6zM312.1 82.1l1.6 1.6l-1.6 1.6l-1.6 -1.6zM301.3 87.2l1.6 1.6l-1.6 1.6l-1.6 -1.6zM304.5 85.9l1.6 1.6l-1.6 1.6l-1.6 -1.6zM307.0 87.2l1.6 1.6l-1.6 1.6l-1.6 -1.6zM302.6 92.9l1.6 1.6l-1.6 1.6l-1.6 -1.6zM312.8 87.2l1.6 1.6l-1.6 1.6l-1.6 -1.6zM314.0 89.1l1.6 1.6l-1.6 1.6l-1.6 -1.6zM319.1 82.4l1.6 1.6l-1.6 1.6l-1.6 -1.6zM321.7 77.6l1.6 1.6l-1.6 1.6l-1.6 -1.6zM323.0 82.8l1.6 1.6l-1.6 1.6l-1.6 -1.6zM323.6 85.9l1.6 1.6l-1.6 1.6l-1.6 -1.6zM325.5 88.4l1.6 1.6l-1.6 1.6l-1.6 -1.6zM321.0 89.1l1.6 1.6l-1.6 1.6l-1.6 -1.6zM323.0 92.3l1.6 1.6l-1.6 1.6l-1.6 -1.6zM328.0 78.9l1.6 1.6l-1.6 1.6l-1.6 -1.6zM326.8 81.4l1.6 1.6l-1.6 1.6l-1.6 -1.6zM328.0 81.4l1.6 1.6l-1.6 1.6l-1.6 -1.6zM332.5 82.8l1.6 1.6l-1.6 1.6l-1.6 -1.6zM334.4 85.9l1.6 1.6l-1.6 1.6l-1.6 -1.6zM328.0 89.1l1.6 1.6l-1.6 1.6l-1.6 -1.6zM331.9 90.3l1.6 1.6l-1.6 1.6l-1.6 -1.6zM338.2 85.9l1.6 1.6l-1.6 1.6l-1.6 -1.6zM341.4 80.8l1.6 1.6l-1.6 1.6l-1.6 -1.6zM344.0 82.1l1.6 1.6l-1.6 1.6l-1.6 -1.6zM342.0 87.8l1.6 1.6l-1.6 1.6l-1.6 -1.6zM342.0 89.8l1.6 1.6l-1.6 1.6l-1.6 -1.6zM344.9 54.8l1.6 1.6l-1.6 1.6l-1.6 -1.6zM347.2 59.9l1.6 1.6l-1.6 1.6l-1.6 -1.6zM346.9 70.0l1.6 1.6l-1.6 1.6l-1.6 -1.6zM349.1 82.9l1.6 1.6l-1.6 1.6l-1.6 -1.6zM352.5 54.1l1.6 1.6l-1.6 1.6l-1.6 -1.6zM354.2 61.8l1.6 1.6l-1.6 1.6l-1.6 -1.6zM354.8 68.0l1.6 1.6l-1.6 1.6l-1.6 -1.6zM353.5 75.1l1.6 1.6l-1.6 1.6l-1.6 -1.6zM356.0 76.3l1.6 1.6l-1.6 1.6l-1.6 -1.6zM352.3 81.4l1.6 1.6l-1.6 1.6l-1.6 -1.6zM356.7 71.2l1.6 1.6l-1.6 1.6l-1.6 -1.6zM282.9 87.5l1.6 1.6l-1.6 1.6l-1.6 -1.6zM276.7 91.8l1.6 1.6l-1.6 1.6l-1.6 -1.6zM281.3 92.5l1.6 1.6l-1.6 1.6l-1.6 -1.6zM274.3 98.0l1.6 1.6l-1.6 1.6l-1.6 -1.6zM276.0 100.3l1.6 1.6l-1.6 1.6l-1.6 -1.6zM278.2 102.8l1.6 1.6l-1.6 1.6l-1.6 -1.6zM272.0 108.1l1.6 1.6l-1.6 1.6l-1.6 -1.6zM275.9 116.8l1.6 1.6l-1.6 1.6l-1.6 -1.6zM278.2 119.0l1.6 1.6l-1.6 1.6l-1.6 -1.6zM272.8 121.3l1.6 1.6l-1.6 1.6l-1.6 -1.6zM272.8 122.9l1.6 1.6l-1.6 1.6l-1.6 -1.6zM274.3 128.8l1.6 1.6l-1.6 1.6l-1.6 -1.6zM279.5 129.7l1.6 1.6l-1.6 1.6l-1.6 -1.6zM285.2 99.5l1.6 1.6l-1.6 1.6l-1.6 -1.6zM288.4 95.6l1.6 1.6l-1.6 1.6l-1.6 -1.6zM287.6 100.3l1.6 1.6l-1.6 1.6l-1.6 -1.6zM289.1 100.3l1.6 1.6l-1.6 1.6l-1.6 -1.6zM286.0 105.0l1.6 1.6l-1.6 1.6l-1.6 -1.6zM286.8 115.1l1.6 1.6l-1.6 1.6l-1.6 -1.6zM289.9 110.4l1.6 1.6l-1.6 1.6l-1.6 -1.6zM291.0 113.3l1.6 1.6l-1.6 1.6l-1.6 -1.6zM292.2 116.8l1.6 1.6l-1.6 1.6l-1.6 -1.6zM290.7 119.8l1.6 1.6l-1.6 1.6l-1.6 -1.6zM292.2 121.3l1.6 1.6l-1.6 1.6l-1.6 -1.6zM295.0 122.3l1.6 1.6l-1.6 1.6l-1.6 -1.6zM297.7 123.8l1.6 1.6l-1.6 1.6l-1.6 -1.6zM295.0 127.7l1.6 1.6l-1.6 1.6l-1.6 -1.6zM305.5 135.8l1.6 1.6l-1.6 1.6l-1.6 -1.6zM294.6 106.5l1.6 1.6l-1.6 1.6l-1.6 -1.6zM296.1 109.8l1.6 1.6l-1.6 1.6l-1.6 -1.6zM298.5 103.4l1.6 1.6l-1.6 1.6l-1.6 -1.6zM302.4 105.8l1.6 1.6l-1.6 1.6l-1.6 -1.6zM296.9 98.0l1.6 1.6l-1.6 1.6l-1.6 -1.6zM299.7 96.4l1.6 1.6l-1.6 1.6l-1.6 -1.6zM303.2 93.3l1.6 1.6l-1.6 1.6l-1.6 -1.6zM306.6 94.1l1.6 1.6l-1.6 1.6l-1.6 -1.6zM301.6 87.5l1.6 1.6l-1.6 1.6l-1.6 -1.6zM306.3 87.5l1.6 1.6l-1.6 1.6l-1.6 -1.6zM310.2 110.4l1.6 1.6l-1.6 1.6l-1.6 -1.6zM311.0 100.3l1.6 1.6l-1.6 1.6l-1.6 -1.6zM311.7 88.6l1.6 1.6l-1.6 1.6l-1.6 -1.6zM313.0 91.3l1.6 1.6l-1.6 1.6l-1.6 -1.6zM315.0 93.3l1.6 1.6l-1.6 1.6l-1.6 -1.6zM316.0 90.3l1.6 1.6l-1.6 1.6l-1.6 -1.6zM318.0 95.3l1.6 1.6l-1.6 1.6l-1.6 -1.6zM320.0 92.3l1.6 1.6l-1.6 1.6l-1.6 -1.6zM322.0 94.3l1.6 1.6l-1.6 1.6l-1.6 -1.6zM323.4 98.0l1.6 1.6l-1.6 1.6l-1.6 -1.6zM317.2 101.1l1.6 1.6l-1.6 1.6l-1.6 -1.6zM320.3 101.1l1.6 1.6l-1.6 1.6l-1.6 -1.6zM323.4 87.1l1.6 1.6l-1.6 1.6l-1.6 -1.6zM326.5 89.4l1.6 1.6l-1.6 1.6l-1.6 -1.6zM330.4 90.2l1.6 1.6l-1.6 1.6l-1.6 -1.6zM330.4 93.3l1.6 1.6l-1.6 1.6l-1.6 -1.6zM332.7 92.5l1.6 1.6l-1.6 1.6l-1.6 -1.6zM335.0 94.3l1.6 1.6l-1.6 1.6l-1.6 -1.6zM337.0 96.3l1.6 1.6l-1.6 1.6l-1.6 -1.6zM339.0 93.3l1.6 1.6l-1.6 1.6l-1.6 -1.6zM340.5 98.0l1.6 1.6l-1.6 1.6l-1.6 -1.6zM334.3 105.0l1.6 1.6l-1.6 1.6l-1.6 -1.6zM335.9 106.5l1.6 1.6l-1.6 1.6l-1.6 -1.6zM340.5 104.2l1.6 1.6l-1.6 1.6l-1.6 -1.6zM341.3 87.9l1.6 1.6l-1.6 1.6l-1.6 -1.6zM343.7 90.2l1.6 1.6l-1.6 1.6l-1.6 -1.6zM345.2 94.9l1.6 1.6l-1.6 1.6l-1.6 -1.6zM351.4 99.5l1.6 1.6l-1.6 1.6l-1.6 -1.6zM350.7 107.8l1.6 1.6l-1.6 1.6l-1.6 -1.6zM356.1 108.9l1.6 1.6l-1.6 1.6l-1.6 -1.6zM348.3 116.8l1.6 1.6l-1.6 1.6l-1.6 -1.6zM346.5 121.8l1.6 1.6l-1.6 1.6l-1.6 -1.6zM356.9 91.0l1.6 1.6l-1.6 1.6l-1.6 -1.6zM76.5 65.8l1.6 1.6l-1.6 1.6l-1.6 -1.6zM78.0 67.3l1.6 1.6l-1.6 1.6l-1.6 -1.6zM79.5 68.8l1.6 1.6l-1.6 1.6l-1.6 -1.6zM81.0 69.3l1.6 1.6l-1.6 1.6l-1.6 -1.6zM82.5 71.3l1.6 1.6l-1.6 1.6l-1.6 -1.6zM83.5 73.3l1.6 1.6l-1.6 1.6l-1.6 -1.6zM85.0 75.3l1.6 1.6l-1.6 1.6l-1.6 -1.6zM86.0 77.8l1.6 1.6l-1.6 1.6l-1.6 -1.6zM88.0 73.3l1.6 1.6l-1.6 1.6l-1.6 -1.6zM89.5 76.3l1.6 1.6l-1.6 1.6l-1.6 -1.6zM91.0 77.3l1.6 1.6l-1.6 1.6l-1.6 -1.6zM93.0 72.3l1.6 1.6l-1.6 1.6l-1.6 -1.6zM94.5 75.8l1.6 1.6l-1.6 1.6l-1.6 -1.6zM96.0 73.8l1.6 1.6l-1.6 1.6l-1.6 -1.6zM97.5 72.3l1.6 1.6l-1.6 1.6l-1.6 -1.6zM104.5 65.8l1.6 1.6l-1.6 1.6l-1.6 -1.6zM107.5 71.8l1.6 1.6l-1.6 1.6l-1.6 -1.6zM109.5 67.8l1.6 1.6l-1.6 1.6l-1.6 -1.6zM112.0 66.3l1.6 1.6l-1.6 1.6l-1.6 -1.6zM113.5 70.8l1.6 1.6l-1.6 1.6l-1.6 -1.6zM115.5 67.8l1.6 1.6l-1.6 1.6l-1.6 -1.6zM118.0 69.8l1.6 1.6l-1.6 1.6l-1.6 -1.6zM120.0 71.8l1.6 1.6l-1.6 1.6l-1.6 -1.6zM122.5 70.3l1.6 1.6l-1.6 1.6l-1.6 -1.6zM181.5 75.8l1.6 1.6l-1.6 1.6l-1.6 -1.6zM183.0 78.8l1.6 1.6l-1.6 1.6l-1.6 -1.6zM184.5 79.8l1.6 1.6l-1.6 1.6l-1.6 -1.6zM137.0 79.3l1.6 1.6l-1.6 1.6l-1.6 -1.6zM138.5 81.8l1.6 1.6l-1.6 1.6l-1.6 -1.6zM140.0 79.8l1.6 1.6l-1.6 1.6l-1.6 -1.6zM189.0 74.8l1.6 1.6l-1.6 1.6l-1.6 -1.6zM190.5 76.8l1.6 1.6l-1.6 1.6l-1.6 -1.6zM193.0 75.8l1.6 1.6l-1.6 1.6l-1.6 -1.6zM195.0 71.3l1.6 1.6l-1.6 1.6l-1.6 -1.6zM197.0 75.3l1.6 1.6l-1.6 1.6l-1.6 -1.6zM198.5 69.8l1.6 1.6l-1.6 1.6l-1.6 -1.6zM199.0 80.3l1.6 1.6l-1.6 1.6l-1.6 -1.6zM200.5 78.3l1.6 1.6l-1.6 1.6l-1.6 -1.6zM203.0 80.8l1.6 1.6l-1.6 1.6l-1.6 -1.6zM205.0 82.3l1.6 1.6l-1.6 1.6l-1.6 -1.6zM206.5 80.3l1.6 1.6l-1.6 1.6l-1.6 -1.6zM208.0 82.8l1.6 1.6l-1.6 1.6l-1.6 -1.6zM210.5 83.3l1.6 1.6l-1.6 1.6l-1.6 -1.6zM199.5 82.3l1.6 1.6l-1.6 1.6l-1.6 -1.6zM231.0 76.8l1.6 1.6l-1.6 1.6l-1.6 -1.6zM233.5 78.8l1.6 1.6l-1.6 1.6l-1.6 -1.6zM236.0 82.8l1.6 1.6l-1.6 1.6l-1.6 -1.6zM237.5 84.3l1.6 1.6l-1.6 1.6l-1.6 -1.6zM239.0 80.8l1.6 1.6l-1.6 1.6l-1.6 -1.6zM241.5 83.3l1.6 1.6l-1.6 1.6l-1.6 -1.6zM243.0 78.8l1.6 1.6l-1.6 1.6l-1.6 -1.6z" fill="#1010cc"/>
<text x="2.2" y="192.2" font-size="16.5" font-weight="bold" fill="#000">B</text>
<text x="51.5" y="189" font-size="12" fill="#222">2- Modulations in the estimated states (κ state numbers)</text>
<rect x="46.0" y="197.8" width="310.5" height="121.0" fill="#0e0000"/>
<g clip-path="url(#hclip)"><g filter="url(#bl)"><rect x="43.00" y="197.50" width="316.50" height="6.65" fill="url(#r1)"/><rect x="43.00" y="203.55" width="316.50" height="6.65" fill="url(#r2)"/><rect x="43.00" y="209.60" width="316.50" height="6.65" fill="url(#r3)"/><rect x="43.00" y="215.65" width="316.50" height="6.65" fill="url(#r4)"/><rect x="43.00" y="221.70" width="316.50" height="6.65" fill="url(#r5)"/><rect x="43.00" y="227.75" width="316.50" height="6.65" fill="url(#r6)"/><rect x="43.00" y="233.80" width="316.50" height="6.65" fill="url(#r7)"/><rect x="43.00" y="239.85" width="316.50" height="6.65" fill="url(#r8)"/><rect x="43.00" y="245.90" width="316.50" height="6.65" fill="url(#r9)"/><rect x="43.00" y="251.95" width="316.50" height="6.65" fill="url(#r10)"/></g></g>
<text x="43.5" y="228.7" font-size="12" text-anchor="end" fill="#222">5</text>
<text x="43.5" y="259.0" font-size="12" text-anchor="end" fill="#222">10</text>
<text x="43.5" y="289.2" font-size="12" text-anchor="end" fill="#222">15</text>
<text x="43.5" y="319.5" font-size="12" text-anchor="end" fill="#222">20</text>
<path d="M46 255.3h2.5" stroke="#fff" stroke-width="1"/>
<text x="107.4" y="332.2" font-size="12" text-anchor="middle" fill="#222">100</text>
<text x="169.5" y="332.2" font-size="12" text-anchor="middle" fill="#222">200</text>
<text x="231.7" y="332.2" font-size="12" text-anchor="middle" fill="#222">300</text>
<text x="293.8" y="332.2" font-size="12" text-anchor="middle" fill="#222">400</text>
<text x="355.9" y="332.2" font-size="12" text-anchor="middle" fill="#222">500</text>
<text x="199.6" y="343.9" font-size="12" text-anchor="middle" fill="#222" stroke="#222" stroke-width="0.25">Samples</text>
<text transform="translate(21.6,300.4) rotate(-90)" font-size="12.4" textLength="85.5" lengthAdjust="spacingAndGlyphs" fill="#222">κ state number</text>
<rect x="363" y="199.2" width="11.5" height="117.8" fill="url(#cbar)" stroke="#777" stroke-width="0.9"/>
<path d="M363 293.2h1.8M374.5 293.2h-1.8" stroke="#444" stroke-width="0.8"/>
<text x="376.2" y="295.7" font-size="8.8" fill="#555">0.2</text>
<path d="M363 269.9h1.8M374.5 269.9h-1.8" stroke="#444" stroke-width="0.8"/>
<text x="376.2" y="272.4" font-size="8.8" fill="#555">0.4</text>
<path d="M363 246.6h1.8M374.5 246.6h-1.8" stroke="#444" stroke-width="0.8"/>
<text x="376.2" y="249.1" font-size="8.8" fill="#555">0.6</text>
<path d="M363 223.3h1.8M374.5 223.3h-1.8" stroke="#444" stroke-width="0.8"/>
<text x="376.2" y="225.8" font-size="8.8" fill="#555">0.8</text>
<text x="421.9" y="14.2" font-size="15" font-weight="bold" fill="#000">C</text>
<text x="522.2" y="20.4" font-size="21" fill="#000">S<tspan font-size="12.5" dy="6.8" dx="0.2">5</tspan></text>
<rect x="472.6" y="30.2" width="116.8" height="93.5" fill="#fff" stroke="#000" stroke-width="1.6"/><clipPath id="c1"><rect x="487.6" y="32.9" width="98.3" height="78.7"/></clipPath><rect x="487.6" y="32.9" width="98.3" height="78.7" fill="#0b0000"/><g clip-path="url(#c1)"><g filter="url(#bl2)"><polygon points="516.30,74.30 536.10,62.30 536.10,62.30 555.90,74.30 536.10,86.30 536.10,86.30" fill="#520000"/><polygon points="517.12,74.30 536.10,62.80 536.10,62.80 555.08,74.30 536.10,85.80 536.10,85.80" fill="#710000"/><polygon points="517.95,74.30 536.10,63.30 536.10,63.30 554.25,74.30 536.10,85.30 536.10,85.30" fill="#900000"/><polygon points="518.77,74.30 536.10,63.80 536.10,63.80 553.43,74.30 536.10,84.80 536.10,84.80" fill="#af0000"/><polygon points="519.60,74.30 536.10,64.30 536.10,64.30 552.60,74.30 536.10,84.30 536.10,84.30" fill="#ce0000"/><polygon points="520.43,74.30 536.10,64.80 536.10,64.80 551.77,74.30 536.10,83.80 536.10,83.80" fill="#ea0000"/><polygon points="521.25,74.30 536.10,65.30 536.10,65.30 550.95,74.30 536.10,83.30 536.10,83.30" fill="#f70000"/><polygon points="522.08,74.30 536.10,65.80 536.10,65.80 550.12,74.30 536.10,82.80 536.10,82.80" fill="#ff0500"/><polygon points="522.90,74.30 536.10,66.30 536.10,66.30 549.30,74.30 536.10,82.30 536.10,82.30" fill="#ff1200"/><polygon points="523.73,74.30 536.10,66.80 536.10,66.80 548.48,74.30 536.10,81.80 536.10,81.80" fill="#ff1f00"/><polygon points="524.55,74.30 536.10,67.30 536.10,67.30 547.65,74.30 536.10,81.30 536.10,81.30" fill="#ff2c00"/><polygon points="525.38,74.30 536.10,67.80 536.10,67.80 546.83,74.30 536.10,80.80 536.10,80.80" fill="#ff3900"/><polygon points="526.20,74.30 536.10,68.30 536.10,68.30 546.00,74.30 536.10,80.30 536.10,80.30" fill="#ff4500"/><polygon points="527.02,74.30 536.10,68.80 536.10,68.80 545.18,74.30 536.10,79.80 536.10,79.80" fill="#ff5200"/><polygon points="527.85,74.30 536.10,69.30 536.10,69.30 544.35,74.30 536.10,79.30 536.10,79.30" fill="#ff6f00"/><polygon points="528.68,74.30 536.10,69.80 536.10,69.80 543.52,74.30 536.10,78.80 536.10,78.80" fill="#ff8f00"/><polygon points="529.50,74.30 536.10,70.30 536.10,70.30 542.70,74.30 536.10,78.30 536.10,78.30" fill="#ffaf00"/><polygon points="530.33,74.30 536.10,70.80 536.10,70.80 541.88,74.30 536.10,77.80 536.10,77.80" fill="#ffcd00"/><polygon points="531.15,74.30 536.10,71.30 536.10,71.30 541.05,74.30 536.10,77.30 536.10,77.30" fill="#ffe400"/><polygon points="531.98,74.30 536.10,71.80 536.10,71.80 540.23,74.30 536.10,76.80 536.10,76.80" fill="#fffa00"/><polygon points="532.80,74.30 536.10,72.30 536.10,72.30 539.40,74.30 536.10,76.30 536.10,76.30" fill="#ffff1a"/><polygon points="533.62,74.30 536.10,72.80 536.10,72.80 538.58,74.30 536.10,75.80 536.10,75.80" fill="#ffff3c"/><polygon points="534.45,74.30 536.10,73.30 536.10,73.30 537.75,74.30 536.10,75.30 536.10,75.30" fill="#ffff5d"/><polygon points="535.27,74.30 536.10,73.80 536.10,73.80 536.93,74.30 536.10,74.80 536.10,74.80" fill="#ffff9c"/></g></g><text x="485.6" y="49.6" font-size="9" font-weight="bold" text-anchor="end" fill="#222">14</text><text x="485.6" y="63.7" font-size="9" font-weight="bold" text-anchor="end" fill="#222">13</text><text x="485.6" y="77.7" font-size="9" font-weight="bold" text-anchor="end" fill="#222">12</text><text x="485.6" y="91.6" font-size="9" font-weight="bold" text-anchor="end" fill="#222">11</text><text x="485.6" y="105.6" font-size="9" font-weight="bold" text-anchor="end" fill="#222">10</text><text x="491.0" y="121.6" font-size="9" font-weight="bold" text-anchor="middle" fill="#222">8</text><text x="535.0" y="121.6" font-size="9" font-weight="bold" text-anchor="middle" fill="#222">10</text>
<text x="596.2" y="90.6" font-size="21" fill="#000">S<tspan font-size="12.5" dy="6.8" dx="0.2">200</tspan></text>
<rect x="538.3" y="99.6" width="115.9" height="93.7" fill="#fff" stroke="#000" stroke-width="1.6"/><clipPath id="c2"><rect x="553.2" y="101.0" width="98.4" height="79.4"/></clipPath><rect x="553.2" y="101.0" width="98.4" height="79.4" fill="#0b0000"/><g clip-path="url(#c2)"><g filter="url(#bl2)"><polygon points="567.20,139.50 588.82,131.10 592.58,131.10 614.20,139.50 592.58,147.90 588.82,147.90" fill="#440000"/><polygon points="568.18,139.50 588.90,131.45 592.50,131.45 613.22,139.50 592.50,147.55 588.90,147.55" fill="#580000"/><polygon points="569.16,139.50 588.98,131.80 592.42,131.80 612.24,139.50 592.42,147.20 588.98,147.20" fill="#6d0000"/><polygon points="570.14,139.50 589.06,132.15 592.35,132.15 611.26,139.50 592.35,146.85 589.06,146.85" fill="#810000"/><polygon points="571.12,139.50 589.13,132.50 592.27,132.50 610.28,139.50 592.27,146.50 589.13,146.50" fill="#960000"/><polygon points="572.10,139.50 589.21,132.85 592.19,132.85 609.30,139.50 592.19,146.15 589.21,146.15" fill="#aa0000"/><polygon points="573.08,139.50 589.29,133.20 592.11,133.20 608.33,139.50 592.11,145.80 589.29,145.80" fill="#be0000"/><polygon points="574.05,139.50 589.37,133.55 592.03,133.55 607.35,139.50 592.03,145.45 589.37,145.45" fill="#c80000"/><polygon points="575.03,139.50 589.45,133.90 591.95,133.90 606.37,139.50 591.95,145.10 589.45,145.10" fill="#d10000"/><polygon points="576.01,139.50 589.53,134.25 591.88,134.25 605.39,139.50 591.88,144.75 589.53,144.75" fill="#db0000"/><polygon points="576.99,139.50 589.60,134.60 591.80,134.60 604.41,139.50 591.80,144.40 589.60,144.40" fill="#e40000"/><polygon points="577.97,139.50 589.68,134.95 591.72,134.95 603.43,139.50 591.72,144.05 589.68,144.05" fill="#ee0000"/><polygon points="578.95,139.50 589.76,135.30 591.64,135.30 602.45,139.50 591.64,143.70 589.76,143.70" fill="#f70000"/><polygon points="579.93,139.50 589.84,135.65 591.56,135.65 601.47,139.50 591.56,143.35 589.84,143.35" fill="#ff0200"/><polygon points="580.91,139.50 589.92,136.00 591.48,136.00 600.49,139.50 591.48,143.00 589.92,143.00" fill="#ff1100"/><polygon points="581.89,139.50 590.00,136.35 591.41,136.35 599.51,139.50 591.41,142.65 590.00,142.65" fill="#ff2200"/><polygon points="582.87,139.50 590.07,136.70 591.33,136.70 598.53,139.50 591.33,142.30 590.07,142.30" fill="#ff3300"/><polygon points="583.85,139.50 590.15,137.05 591.25,137.05 597.55,139.50 591.25,141.95 590.15,141.95" fill="#ff4400"/><polygon points="584.83,139.50 590.23,137.40 591.17,137.40 596.58,139.50 591.17,141.60 590.23,141.60" fill="#ff5500"/><polygon points="585.80,139.50 590.31,137.75 591.09,137.75 595.60,139.50 591.09,141.25 590.31,141.25" fill="#ff7300"/><polygon points="586.78,139.50 590.39,138.10 591.01,138.10 594.62,139.50 591.01,140.90 590.39,140.90" fill="#ff9100"/><polygon points="587.76,139.50 590.47,138.45 590.94,138.45 593.64,139.50 590.94,140.55 590.47,140.55" fill="#ffb000"/><polygon points="588.74,139.50 590.54,138.80 590.86,138.80 592.66,139.50 590.86,140.20 590.54,140.20" fill="#ffcd00"/><polygon points="589.72,139.50 590.62,139.15 590.78,139.15 591.68,139.50 590.78,139.85 590.62,139.85" fill="#ffe900"/></g></g><text x="551.0" y="123.3" font-size="9" font-weight="bold" text-anchor="end" fill="#222">12</text><text x="551.0" y="142.4" font-size="9" font-weight="bold" text-anchor="end" fill="#222">10</text><text x="551.0" y="162.2" font-size="9" font-weight="bold" text-anchor="end" fill="#222">8</text><text x="551.0" y="181.3" font-size="9" font-weight="bold" text-anchor="end" fill="#222">6</text><text x="576.8" y="190.6" font-size="9" font-weight="bold" text-anchor="middle" fill="#222">6</text>
<circle cx="546.1" cy="111.8" r="1.1" fill="#000"/>
<text x="655.3" y="160.8" font-size="21" fill="#000">S<tspan font-size="12.5" dy="6.8" dx="0.2">320</tspan></text>
<rect x="585.9" y="169.4" width="115.7" height="92.2" fill="#fff" stroke="#000" stroke-width="1.6"/><clipPath id="c3"><rect x="600.7" y="171.2" width="97.9" height="78.6"/></clipPath><rect x="600.7" y="171.2" width="97.9" height="78.6" fill="#0b0000"/><g clip-path="url(#c3)"><g filter="url(#bl2)"><polygon points="659.50,210.40 659.21,210.85 658.35,211.52 656.95,212.29 655.05,213.10 652.73,213.91 650.06,214.68 647.16,215.39 644.12,216.01 641.08,216.52 638.21,216.89 635.69,217.12 634.00,217.20 631.68,217.12 628.23,216.89 624.28,216.52 620.11,216.01 615.94,215.39 611.95,214.68 608.29,213.91 605.11,213.10 602.51,212.29 600.58,211.52 599.40,210.85 599.00,210.40 599.40,209.95 600.58,209.28 602.51,208.51 605.11,207.70 608.29,206.89 611.95,206.12 615.94,205.41 620.11,204.79 624.28,204.28 628.23,203.91 631.68,203.68 634.00,203.60 635.69,203.68 638.21,203.91 641.08,204.28 644.12,204.79 647.16,205.41 650.06,206.12 652.73,206.89 655.05,207.70 656.95,208.51 658.35,209.28 659.21,209.95" fill="#cc0000"/><polygon points="658.50,210.40 658.22,210.82 657.39,211.46 656.05,212.18 654.22,212.94 651.99,213.70 649.43,214.43 646.64,215.10 643.72,215.68 640.81,216.16 638.04,216.51 635.62,216.73 634.00,216.80 631.78,216.73 628.47,216.51 624.69,216.16 620.71,215.68 616.72,215.10 612.90,214.43 609.40,213.70 606.35,212.94 603.86,212.18 602.01,211.46 600.88,210.82 600.50,210.40 600.88,209.98 602.01,209.34 603.86,208.62 606.35,207.86 609.40,207.10 612.90,206.37 616.72,205.70 620.71,205.12 624.69,204.64 628.47,204.29 631.78,204.07 634.00,204.00 635.62,204.07 638.04,204.29 640.81,204.64 643.72,205.12 646.64,205.70 649.43,206.37 651.99,207.10 654.22,207.86 656.05,208.62 657.39,209.34 658.22,209.98" fill="#ff0300"/><polygon points="653.00,210.40 652.78,210.71 652.14,211.18 651.10,211.71 649.68,212.27 647.95,212.82 645.97,213.36 643.80,213.85 641.54,214.28 639.28,214.63 637.13,214.89 635.26,215.05 634.00,215.10 632.21,215.05 629.55,214.89 626.50,214.63 623.29,214.28 620.07,213.85 616.99,213.36 614.17,212.82 611.71,212.27 609.70,211.71 608.22,211.18 607.31,210.71 607.00,210.40 607.31,210.09 608.22,209.62 609.70,209.09 611.71,208.53 614.17,207.98 616.99,207.44 620.07,206.95 623.29,206.52 626.50,206.17 629.55,205.91 632.21,205.75 634.00,205.70 635.26,205.75 637.13,205.91 639.28,206.17 641.54,206.52 643.80,206.95 645.97,207.44 647.95,207.98 649.68,208.53 651.10,209.09 652.14,209.62 652.78,210.09" fill="#ff5500"/><polygon points="648.00,210.40 647.85,210.64 647.41,210.95 646.68,211.30 645.70,211.66 644.48,212.01 643.08,212.35 641.53,212.65 639.89,212.91 638.21,213.12 636.58,213.27 635.10,213.37 634.00,213.40 632.47,213.37 630.40,213.27 628.13,213.12 625.80,212.91 623.51,212.65 621.36,212.35 619.40,212.01 617.71,211.66 616.34,211.30 615.33,210.95 614.71,210.64 614.50,210.40 614.71,210.16 615.33,209.85 616.34,209.50 617.71,209.14 619.40,208.79 621.36,208.45 623.51,208.15 625.80,207.89 628.13,207.68 630.40,207.53 632.47,207.43 634.00,207.40 635.10,207.43 636.58,207.53 638.21,207.68 639.89,207.89 641.53,208.15 643.08,208.45 644.48,208.79 645.70,209.14 646.68,209.50 647.41,209.85 647.85,210.16" fill="#ffdd00"/><polygon points="645.00,210.40 644.88,210.56 644.53,210.79 643.96,211.03 643.19,211.28 642.24,211.53 641.13,211.76 639.91,211.97 638.62,212.15 637.31,212.30 636.03,212.41 634.86,212.48 634.00,212.50 632.82,212.48 631.23,212.41 629.49,212.30 627.69,212.15 625.93,211.97 624.27,211.76 622.77,211.53 621.47,211.28 620.41,211.03 619.64,210.79 619.16,210.56 619.00,210.40 619.16,210.24 619.64,210.01 620.41,209.77 621.47,209.52 622.77,209.27 624.27,209.04 625.93,208.83 627.69,208.65 629.49,208.50 631.23,208.39 632.82,208.32 634.00,208.30 634.86,208.32 636.03,208.39 637.31,208.50 638.62,208.65 639.91,208.83 641.13,209.04 642.24,209.27 643.19,209.52 643.96,209.77 644.53,210.01 644.88,210.24" fill="#ffff0a"/><polygon points="641.50,210.40 641.42,210.50 641.18,210.64 640.79,210.79 640.27,210.95 639.62,211.10 638.86,211.24 638.03,211.37 637.15,211.49 636.26,211.58 635.38,211.64 634.59,211.69 634.00,211.70 633.33,211.69 632.43,211.64 631.44,211.58 630.43,211.49 629.43,211.37 628.49,211.24 627.64,211.10 626.90,210.95 626.30,210.79 625.86,210.64 625.59,210.50 625.50,210.40 625.59,210.30 625.86,210.16 626.30,210.01 626.90,209.85 627.64,209.70 628.49,209.56 629.43,209.43 630.43,209.31 631.44,209.22 632.43,209.16 633.33,209.11 634.00,209.10 634.59,209.11 635.38,209.16 636.26,209.22 637.15,209.31 638.03,209.43 638.86,209.56 639.62,209.70 640.27,209.85 640.79,210.01 641.18,210.16 641.42,210.30" fill="#ffffe0"/></g></g><text x="598.4" y="179.3" font-size="9" font-weight="bold" text-anchor="end" fill="#222">14</text><text x="598.4" y="196.3" font-size="9" font-weight="bold" text-anchor="end" fill="#222">12</text><text x="598.4" y="212.8" font-size="9" font-weight="bold" text-anchor="end" fill="#222">10</text><text x="598.4" y="230.3" font-size="9" font-weight="bold" text-anchor="end" fill="#222">8</text><text x="598.4" y="247.9" font-size="9" font-weight="bold" text-anchor="end" fill="#222">6</text><text x="604.2" y="260.0" font-size="9" font-weight="bold" text-anchor="middle" fill="#222">2</text><text x="625.5" y="260.0" font-size="9" font-weight="bold" text-anchor="middle" fill="#222">4</text>
<text x="707.0" y="214.7" font-size="21" fill="#000">S<tspan font-size="12.5" dy="6.8" dx="0.2">480</tspan></text>
<rect x="642.3" y="224.4" width="115.9" height="92.4" fill="#fff" stroke="#000" stroke-width="1.6"/><clipPath id="c4"><rect x="657.3" y="226.5" width="97.9" height="79.2"/></clipPath><rect x="657.3" y="226.5" width="97.9" height="79.2" fill="#0b0000"/><g clip-path="url(#c4)"><g filter="url(#bl2)"><polygon points="650.0,267.6 679.2,268.2 731.0,271.8 679.2,275.4 650.0,276.0" fill="#6d0000"/><polygon points="650.0,267.8 678.5,268.4 728.5,271.8 678.5,275.2 650.0,275.8" fill="#860000"/><polygon points="650.0,268.1 677.7,268.6 726.0,271.8 677.7,275.0 650.0,275.5" fill="#a00000"/><polygon points="650.0,268.3 676.9,268.8 723.3,271.8 676.9,274.8 650.0,275.3" fill="#ba0000"/><polygon points="650.0,268.5 676.1,269.0 720.6,271.8 676.1,274.6 650.0,275.1" fill="#d40000"/><polygon points="650.0,268.8 675.3,269.2 717.9,271.8 675.3,274.4 650.0,274.8" fill="#e90000"/><polygon points="650.0,269.0 674.4,269.4 715.0,271.8 674.4,274.2 650.0,274.6" fill="#fb0000"/><polygon points="650.0,269.2 673.5,269.6 712.1,271.8 673.5,274.0 650.0,274.4" fill="#ff0d00"/><polygon points="650.0,269.5 672.6,269.8 709.0,271.8 672.6,273.8 650.0,274.1" fill="#ff1d00"/><polygon points="650.0,269.7 671.6,270.0 705.8,271.8 671.6,273.6 650.0,273.9" fill="#ff2c00"/><polygon points="650.0,269.9 670.6,270.2 702.5,271.8 670.6,273.4 650.0,273.7" fill="#ff3c00"/><polygon points="650.0,270.2 669.6,270.4 699.0,271.8 669.6,273.2 650.0,273.4" fill="#ff5600"/><polygon points="650.0,270.4 668.5,270.6 695.3,271.8 668.5,273.0 650.0,273.2" fill="#ff6f00"/><polygon points="650.0,270.6 667.3,270.8 691.3,271.8 667.3,272.8 650.0,273.0" fill="#ff8000"/><polygon points="650.0,270.9 666.0,271.0 687.0,271.8 666.0,272.6 650.0,272.7" fill="#ff8500"/><polygon points="650.0,271.1 664.6,271.2 682.3,271.8 664.6,272.4 650.0,272.5" fill="#ff8a00"/><polygon points="650.0,271.3 662.9,271.4 676.8,271.8 662.9,272.2 650.0,272.3" fill="#ff8f00"/><polygon points="650.0,271.6 660.9,271.6 670.1,271.8 660.9,272.0 650.0,272.0" fill="#ff9400"/></g></g><text x="655.0" y="242.3" font-size="9" font-weight="bold" text-anchor="end" fill="#222">15</text><text x="655.0" y="269.6" font-size="9" font-weight="bold" text-anchor="end" fill="#222">10</text><text x="655.0" y="297.2" font-size="9" font-weight="bold" text-anchor="end" fill="#222">5</text><text x="671.8" y="315.6" font-size="9" font-weight="bold" text-anchor="middle" fill="#222">2</text><text x="702.9" y="315.6" font-size="9" font-weight="bold" text-anchor="middle" fill="#222">3</text><text x="733.4" y="315.6" font-size="9" font-weight="bold" text-anchor="middle" fill="#222">4</text>
<circle cx="538.4" cy="194.1" r="1.1" fill="#000"/><circle cx="546.6" cy="207.0" r="1.1" fill="#000"/><circle cx="555.0" cy="219.5" r="1.1" fill="#000"/><circle cx="563.6" cy="232.0" r="1.1" fill="#000"/><circle cx="572.0" cy="244.4" r="1.1" fill="#000"/><circle cx="580.3" cy="256.4" r="1.1" fill="#000"/><circle cx="664.5" cy="111.3" r="1.1" fill="#000"/><circle cx="673.3" cy="124.5" r="1.1" fill="#000"/><circle cx="681.5" cy="136.5" r="1.1" fill="#000"/><circle cx="690.1" cy="149.4" r="1.1" fill="#000"/><circle cx="698.5" cy="161.9" r="1.1" fill="#000"/>
<path d="M656.9 88.7L714.6 171.2" stroke="#000" stroke-width="2"/>
<path d="M718.2 176.6L709.8 170.2L717.6 165.2Z" fill="#000"/>
<text transform="translate(682.6,97.0) rotate(57)" font-size="19" fill="#000">Samples</text>
<path d="M471 181.5V301.5H596" stroke="#d8d8d8" stroke-width="1" fill="none"/>
<path d="M470.9 170.4L466.9 181.6L475.1 181.6Z" fill="#000"/>
<path d="M607 301.5L595.5 297.8L595.5 305.3Z" fill="#000"/>
<text class="serif" transform="translate(429.6,284) rotate(-90)" font-size="19" font-style="italic" textLength="106" lengthAdjust="spacingAndGlyphs" fill="#111">μ state number</text>
<text class="serif" transform="translate(459.4,306.5) rotate(-90)" font-size="23" font-style="italic" textLength="153" lengthAdjust="spacingAndGlyphs" fill="#111">Direction of increase</text>
<text class="serif" x="483.5" y="325.3" font-size="18.5" font-style="italic" textLength="85.1" lengthAdjust="spacingAndGlyphs" fill="#111">κ state number</text>
<text class="serif" x="464.1" y="349.6" font-size="21" font-style="italic" textLength="124.7" lengthAdjust="spacingAndGlyphs" fill="#111">Direction of increase</text>
</svg></body></html>
